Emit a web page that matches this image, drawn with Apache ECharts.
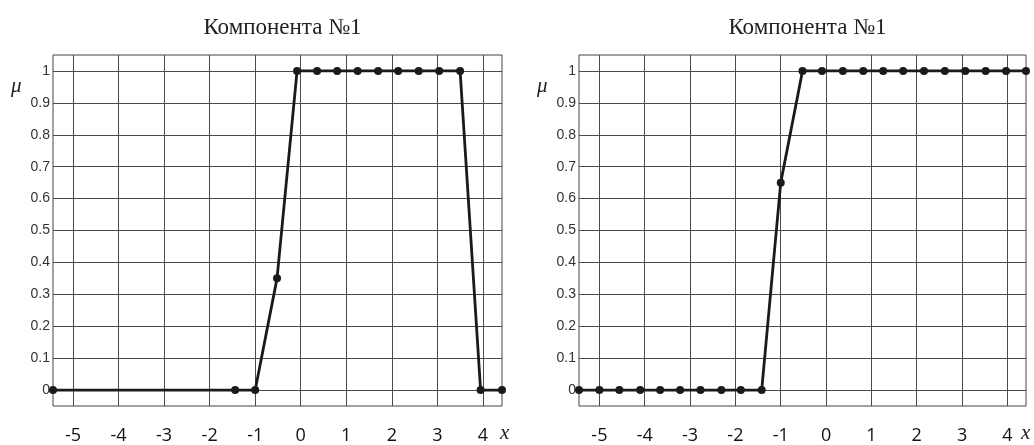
<!DOCTYPE html>
<html>
<head>
<meta charset="utf-8">
<script src="https://cdn.jsdelivr.net/npm/echarts@6/dist/echarts.min.js"></script>
<style>
  html, body { margin: 0; padding: 0; background: #fff; }
  #main { width: 1034px; height: 445px; }
</style>
</head>
<body>
<div id="main"></div>
<script>
// data
var titles = ["Компонента №1", "Компонента №1"];
var xTicks = [-5, -4, -3, -2, -1, 0, 1, 2, 3, 4];
var yTicks = [0, 0.1, 0.2, 0.3, 0.4, 0.5, 0.6, 0.7, 0.8, 0.9, 1];

var leftX = [-5.44, -1.44, -1.0, -0.52, -0.08, 0.36, 0.8, 1.25, 1.7, 2.14, 2.59, 3.04, 3.5, 3.95, 4.42];
var leftMu = [0, 0, 0, 0.35, 1, 1, 1, 1, 1, 1, 1, 1, 1, 0, 0];

var rightX = [-5.45, -5.0, -4.56, -4.1, -3.66, -3.22, -2.77, -2.31, -1.88, -1.42,
  -1.0, -0.52, -0.09, 0.37, 0.82, 1.26, 1.7, 2.16, 2.62, 3.07, 3.52, 3.97, 4.41];
var rightMu = [0, 0, 0, 0, 0, 0, 0, 0, 0, 0, 0.65, 1, 1, 1, 1, 1, 1, 1, 1, 1, 1, 1, 1];

function pairs(xs, ys) {
  var res = [];
  for (var i = 0; i < xs.length; i++) res.push([xs[i], ys[i]]);
  return res;
}

var grids = [
  { left: 53, top: 55, width: 449, height: 352 },
  { left: 579, top: 55, width: 447, height: 352 }
];
var xRange = [[-5.44, 4.42], [-5.45, 4.41]];

var gridLine = { show: true, lineStyle: { color: "#4a4a4a", width: 1 } };
var nameFont = "italic 21px 'Liberation Serif'";

var option = {
  backgroundColor: "#fff",
  animation: false,
  title: grids.map(function (g, i) {
    return {
      text: titles[i],
      left: g.left + g.width / 2,
      textAlign: "center",
      top: 11,
      textStyle: { fontFamily: "Liberation Serif", fontSize: 23, fontWeight: "normal", color: "#222" }
    };
  }),
  grid: grids.map(function (g) {
    return Object.assign({ show: true, borderColor: "#444", borderWidth: 1, backgroundColor: "#fff" }, g);
  }),
  xAxis: grids.map(function (g, i) {
    return {
      type: "value",
      gridIndex: i,
      min: xRange[i][0],
      max: xRange[i][1],
      axisLine: { show: false },
      axisTick: { show: false, customValues: xTicks },
      splitLine: gridLine,
      axisLabel: {
        customValues: xTicks,
        margin: 21,
        fontFamily: "Open Sans",
        fontSize: 18,
        color: "#111"
      }
    };
  }),
  yAxis: grids.map(function (g, i) {
    return {
      type: "value",
      gridIndex: i,
      min: -0.05,
      max: 1.05,
      axisLine: { show: false },
      axisTick: { show: false, customValues: yTicks },
      splitLine: gridLine,
      axisLabel: {
        customValues: yTicks,
        margin: 3,
        fontFamily: "Liberation Sans",
        fontSize: 14,
        color: "#333"
      }
    };
  }),
  graphic: [
    { type: "text", left: 11, top: 76, style: { text: "μ", font: nameFont, fill: "#222" } },
    { type: "text", left: 537, top: 76, style: { text: "μ", font: nameFont, fill: "#222" } },
    { type: "text", left: 500, top: 423, style: { text: "x", font: nameFont, fill: "#222" } },
    { type: "text", left: 1021, top: 423, style: { text: "x", font: nameFont, fill: "#222" } }
  ],
  series: [
    {
      type: "line",
      xAxisIndex: 0,
      yAxisIndex: 0,
      data: pairs(leftX, leftMu),
      symbol: "circle",
      symbolSize: 8,
      lineStyle: { color: "#1a1a1a", width: 2.8 },
      itemStyle: { color: "#1a1a1a" }
    },
    {
      type: "line",
      xAxisIndex: 1,
      yAxisIndex: 1,
      data: pairs(rightX, rightMu),
      symbol: "circle",
      symbolSize: 8,
      lineStyle: { color: "#1a1a1a", width: 2.8 },
      itemStyle: { color: "#1a1a1a" }
    }
  ]
};

var myChart = echarts.init(document.getElementById("main"));
myChart.setOption(option);
</script>
</body>
</html>
